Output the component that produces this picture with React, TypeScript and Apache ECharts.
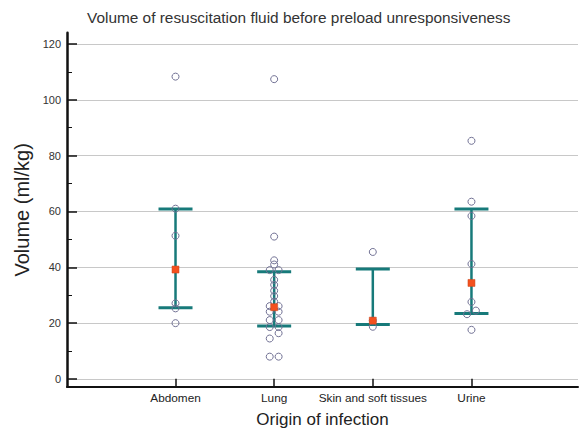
import React, { useEffect, useRef } from "react";
import * as echarts from "echarts";

const categories = ["Abdomen", "Lung", "Skin and soft tissues", "Urine"];
const yTicks = [0, 20, 40, 60, 80, 100, 120];
const yMinorTicks = [10, 30, 50, 70, 90, 110];

// individual observations (ml/kg) per origin; side = -1 left, 0 centre, 1 right (dot-plot spread)
const abdomenValues = [108.3, 61.0, 51.3, 27.1, 25.3, 20.0];
const abdomenSide = [0, 0, 0, 0, 0, 0];
const lungValues = [107.4, 51.0, 42.5, 41.0, 39.0, 39.0, 35.5, 33.7, 31.6, 29.7, 27.7, 26.1, 26.1, 24.1, 24.1, 21.1, 21.1, 18.6, 18.6, 16.4, 14.5, 8.0, 8.0];
const lungSide = [0, 0, 0, 0, -1, 1, 0, 0, 0, 0, 0, -1, 1, -1, 1, -1, 1, -1, 1, 1, -1, -1, 1];
const skinValues = [45.5, 20.9, 18.7];
const skinSide = [0, 0, 0];
const urineValues = [85.3, 63.5, 58.4, 41.2, 27.6, 24.5, 23.2, 17.6];
const urineSide = [0, 0, 0, 0, 0, 1, -1, 0];

// summary per category
const medians = [39.2, 25.7, 20.9, 34.4];
const lowerBounds = [25.5, 19.0, 19.5, 23.5];
const upperBounds = [60.9, 38.4, 39.4, 60.9];

const TEAL = "#177a7a";
const FONT = "Liberation Sans, Arial, sans-serif";

export default function App() {
  const ref = useRef<HTMLDivElement>(null);
  useEffect(() => {
    if (!ref.current) return;
    const chart = echarts.init(ref.current, undefined, { renderer: "svg" });
    const groups = [
      [abdomenValues, abdomenSide],
      [lungValues, lungSide],
      [skinValues, skinSide],
      [urineValues, urineSide],
    ];
    const points: number[][] = [];
    groups.forEach(([vals, sides], i) => {
      vals.forEach((v, j) => points.push([i + 1 + sides[j] * 0.045, v]));
    });
    const bars = categories.map((_, i) => [i + 1, lowerBounds[i], upperBounds[i]]);
    const med = categories.map((_, i) => [i + 1, medians[i]]);
    const gridWidth = 511;

    chart.setOption({
      animation: false,
      textStyle: { fontFamily: FONT },
      title: {
        text: "Volume of resuscitation fluid before preload unresponsiveness",
        left: 82,
        top: 5,
        textStyle: { fontSize: 15.4, fontWeight: "normal", color: "#333", fontFamily: FONT },
      },
      grid: { left: 67, top: 32.8, width: gridWidth, height: 354, outerBoundsMode: "none" },
      xAxis: {
        type: "value",
        min: -0.1,
        max: 5.08,
        axisLine: { onZero: false, lineStyle: { color: "#111", width: 2 } },
        axisTick: { customValues: [1, 2, 3, 4], inside: true, length: 8, lineStyle: { color: "#111", width: 1.5 } },
        axisLabel: {
          customValues: [1, 2, 3, 4],
          formatter: (v: number) => categories[Math.round(v) - 1] || "",
          fontSize: 11.8,
          color: "#222",
          margin: 5,
        },
        splitLine: { show: false },
        name: "Origin of infection",
        nameLocation: "middle",
        nameGap: 24,
        nameTextStyle: { fontSize: 17, color: "#222" },
      },
      yAxis: [
        {
          type: "value",
          min: -2.8,
          max: 124,
          axisLine: { onZero: false, lineStyle: { color: "#111", width: 2.5 } },
          axisTick: { customValues: yTicks, inside: true, length: 10, lineStyle: { color: "#111", width: 1.5 } },
          axisLabel: { customValues: yTicks, fontSize: 11, color: "#333", margin: 6 },
          splitLine: { show: true, lineStyle: { color: "#c8c8c8", width: 1 } },
          name: "Volume (ml/kg)",
          nameLocation: "middle",
          nameGap: 26,
          nameTextStyle: { fontSize: 20, color: "#222" },
        },
        {
          type: "value",
          position: "right",
          offset: -gridWidth,
          min: -2.8,
          max: 124,
          axisLine: { show: false, onZero: false },
          axisTick: { customValues: yMinorTicks, inside: false, length: 5, lineStyle: { color: "#111", width: 1 } },
          axisLabel: { show: false },
          splitLine: { show: false },
        },
      ],
      series: [
        {
          type: "custom",
          data: bars,
          z: 3,
          renderItem: (params: any, api: any) => {
            const x = api.value(0);
            const lo = api.coord([x, api.value(1)]);
            const hi = api.coord([x, api.value(2)]);
            const half = 17;
            return {
              type: "group",
              children: [
                { type: "line", shape: { x1: lo[0], y1: lo[1], x2: hi[0], y2: hi[1] }, style: { stroke: TEAL, lineWidth: 2.5 } },
                { type: "line", shape: { x1: hi[0] - half, y1: hi[1], x2: hi[0] + half, y2: hi[1] }, style: { stroke: TEAL, lineWidth: 3 } },
                { type: "line", shape: { x1: lo[0] - half, y1: lo[1], x2: lo[0] + half, y2: lo[1] }, style: { stroke: TEAL, lineWidth: 3 } },
              ],
            };
          },
        },
        {
          type: "scatter",
          data: points,
          z: 4,
          symbol: "circle",
          symbolSize: 7,
          itemStyle: { color: "rgba(255,255,255,0)", borderColor: "#717194", borderWidth: 1, opacity: 1 },
        },
        {
          type: "scatter",
          data: med,
          z: 5,
          symbol: "rect",
          symbolSize: 7,
          itemStyle: { color: "#f4511e", borderColor: "#c8451a", borderWidth: 0.5, opacity: 1 },
        },
      ],
    });
    return () => chart.dispose();
  }, []);
  return <div ref={ref} style={{ position: "absolute", left: 0, top: 0, width: 579, height: 431 }} />;
}
